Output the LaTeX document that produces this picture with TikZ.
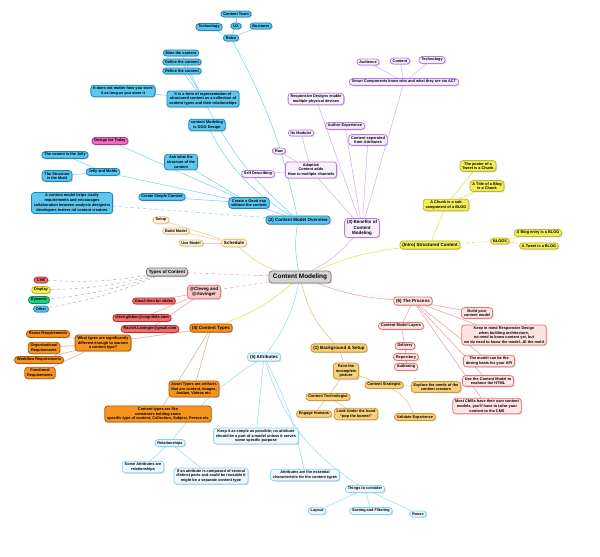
\documentclass[tikz,border=0pt]{standalone}
\usepackage{fontspec}
\setmainfont{Liberation Sans}
\usetikzlibrary{shadows,backgrounds}
\definecolor{bluF}{HTML}{5CC6EE}\definecolor{bluD}{HTML}{1B86BE}
\definecolor{purF}{HTML}{F8F0FF}\definecolor{purD}{HTML}{BB77EE}
\definecolor{yelF}{HTML}{F2EE5A}\definecolor{yelD}{HTML}{BDB52A}
\definecolor{oraF}{HTML}{F7941E}\definecolor{oraD}{HTML}{A95C12}
\definecolor{tanF}{HTML}{F9D07A}\definecolor{tanD}{HTML}{CF9636}
\definecolor{creF}{HTML}{FFF4DE}\definecolor{creD}{HTML}{F5C06E}
\definecolor{redF}{HTML}{F26D6D}\definecolor{redD}{HTML}{B83232}
\definecolor{pnkF}{HTML}{FFE4E4}\definecolor{pnkD}{HTML}{EA7373}
\definecolor{skyF}{HTML}{EEF9FF}\definecolor{skyD}{HTML}{88D4F5}
\definecolor{gryF}{HTML}{D4D4D4}\definecolor{gryD}{HTML}{7D7D7D}
\definecolor{magF}{HTML}{F06CC0}\definecolor{magD}{HTML}{C0328E}
\definecolor{grnF}{HTML}{1DD486}\definecolor{grnD}{HTML}{0E8A55}

\begin{document}
\begin{tikzpicture}[x=1pt,y=-1pt,
  box/.style={draw,rounded corners=3pt,line width=.8pt,align=center,inner xsep=2.4pt,inner ysep=1.6pt,
    font=\fontsize{3.85}{4.7}\selectfont\bfseries,drop shadow={shadow xshift=1pt,shadow yshift=-1pt,opacity=.3}},
  hub/.style={font=\fontsize{4.5}{5.3}\selectfont\bfseries,inner ysep=2pt},
  blu/.style={box,fill=bluF,draw=bluD}, pur/.style={box,fill=purF,draw=purD},
  yel/.style={box,fill=yelF,draw=yelD}, ora/.style={box,fill=oraF,draw=oraD},
  tan/.style={box,fill=tanF,draw=tanD}, cre/.style={box,fill=creF,draw=creD},
  red/.style={box,fill=redF,draw=redD}, pnk/.style={box,fill=pnkF,draw=pnkD},
  sky/.style={box,fill=skyF,draw=skyD}, gry/.style={box,fill=gryF,draw=gryD},
  lb/.style={draw=bluF!75,line width=.6pt}, lp/.style={draw=purD!55,line width=.6pt},
  ly/.style={draw=yelF!80!yelD,line width=.6pt}, lo/.style={draw=oraD!45,line width=.6pt},
  lt/.style={draw=tanD!55,line width=.6pt}, lc/.style={draw=creD!80,line width=.6pt},
  lr/.style={draw=pnkD!65,line width=.6pt}, ls/.style={draw=skyD!80,line width=.6pt},
  lg/.style={draw=gryD!55,line width=.6pt,dashed}]
\useasboundingbox (0,0) rectangle (600,557);

\node[gry,font=\fontsize{6.4}{7}\selectfont\bfseries,inner xsep=4pt,inner ysep=3pt] (cm) at (300,277) {Content Modeling};

\node[blu,hub] (ovw) at (298,220) {(2) Content Model Overview};
\node[blu] (good) at (249,203) {Create a Good exp\\without the content};
\node[blu] (simple) at (162,197) {Create Simple Content};
\node[blu] (ask) at (181,162) {Ask what the\\structure of the\\content};
\node[blu] (ooo) at (207,125) {content Modeling\\is OOO Design};
\node[blu] (form) at (203,99) {It is a form of representation of\\structured content as a collection of\\content types and their relationships};
\node[blu] (mine) at (181,53) {Mine the content};
\node[blu] (define) at (182,62) {Define the content};
\node[blu] (refine) at (182,71) {Refine the content};
\node[blu] (store) at (123,91) {It does not matter how you store\\it as long as you store it};
\node[blu] (roles) at (231,38) {Roles};
\node[blu] (tech) at (209,27) {Technology};
\node[blu] (ux) at (236,26) {UX};
\node[blu] (biz) at (261,26) {Business};
\node[blu] (team) at (236,14) {Content Team};
\node[box,fill=magF,draw=magD] (today) at (110,141) {Design for Today};
\node[blu] (jelly) at (65,155) {The conent is the Jelly};
\node[blu] (molds) at (103,172) {Jelly and Molds};
\node[blu] (mold) at (57,176) {The Structure\\is the Mold};
\node[blu] (helps) at (72,203) {A content model helps clarify\\requirements and encourages\\collaboration between analysts designers\\developers testers nd content creators};

\node[pur,hub] (ben) at (362,228) {(3) Benefits of\\Content\\Modeling};
\node[pur] (smart) at (404,82) {Smart Components know who and what they are via ACT};
\node[pur] (aud) at (368,62) {Audience};
\node[pur] (pcont) at (400,61) {Content};
\node[pur] (ptech) at (432,60) {Technology};
\node[pur] (resp) at (316,99) {Responsive Designs enable\\multiple physical devices};
\node[pur] (authx) at (345,126) {Author Experience};
\node[pur] (sep) at (368,140) {Content seperated\\from Attributes};
\node[pur] (modul) at (301,133) {Its Modular};
\node[pur] (raw) at (279,151) {Raw};
\node[pur] (adapt) at (311,170) {Adaptive\\Content adds\\How to multiple channels};
\node[pur] (selfd) at (258,174) {Self Describing};

\node[yel,hub] (struct) at (430,245) {(Intro) Structured Content};
\node[yel] (chunk) at (446,205) {A Chunk is a sub\\component of a BLOG};
\node[yel] (poster) at (478,166) {The poster of a\\Tweet is a Chunk};
\node[yel] (title) at (487,186) {A Title of a Blog\\is a Chunk};
\node[yel] (blogs) at (500,241) {BLOGS};
\node[yel] (entry) at (538,233) {A Blog entry is a BLOG};
\node[yel] (tweet) at (539,246) {A Tweet is a BLOG};

\node[cre,hub] (sched) at (234,243) {Schedule};
\node[cre] (setup) at (161,220) {Setup};
\node[cre] (build) at (176,231) {Build Model};
\node[cre] (use) at (191,243) {Use Model};

\node[gry,hub] (types) at (167,272) {Types of Content};
\node[red] (cms) at (41,280) {CMS};
\node[yel] (disp) at (41,290) {Display};
\node[box,fill=grnF,draw=grnD] (dyn) at (39,300) {Dynamic};
\node[blu] (other) at (41,309) {Other};

\node[box,hub,fill=pnkF!75!pnkD,draw=pnkD] (cleve) at (204,292) {@Cleveg and\\@rlovinger};
\node[red] (gmail) at (154,301) {Gmail then for slides};
\node[red] (cmail) at (142,318) {cleve.gibbon@cognifide.com};
\node[red] (rmail) at (150,329) {Rachel.Lovinger@gmail.com};

\node[ora,hub] (ctypes) at (211,328) {(4) Content Types};
\node[ora] (what) at (103,343) {What types are significantly\\different enough to warrant\\a content type?};
\node[ora] (reuse) at (48,334) {Reuse Requirements};
\node[ora] (org) at (44,348) {Organizational\\Requirements};
\node[ora] (work) at (39,360) {Workflow Requirements};
\node[ora] (func) at (40,373) {Functional\\Requirements};
\node[ora] (asset) at (194,389) {Asset Types are artifacts\\that are content, Images,\\Audios, Videos etc.};
\node[ora] (like) at (158,414) {Content types are like\\containers holding some\\specific type of content, Collection, Subject, Person etc};

\node[sky,hub] (attr) at (264,357) {(5) Attributes};
\node[sky] (keep) at (256,436) {Keep it as simple as possible; no attribute\\should be a part of a model unless it serves\\some specific purpose};
\node[sky] (rel) at (170,443) {Relationships};
\node[sky] (some) at (143,467) {Some Attributes are\\relationships};
\node[sky] (compo) at (211,476) {If an attribute is composed of several\\distinct parts and could be reusable it\\might be a separate content type};
\node[sky] (essen) at (305,475) {Attributes are the essential\\characteristic for the content types};
\node[sky] (things) at (365,489) {Things to consider};
\node[sky] (layout) at (317,511) {Layout};
\node[sky] (sort) at (371,511) {Sorting and Filtering};
\node[sky] (areuse) at (418,514) {Reuse};

\node[tan,hub] (bg) at (339,348) {(1) Background \& Setup};
\node[tan] (paint) at (346,371) {Paint the\\incomplete\\picture};
\node[tan] (strat) at (384,385) {Content Strategist};
\node[tan] (techn) at (328,397) {Content Technologist};
\node[tan] (engage) at (314,414) {Engage Humans};
\node[tan] (hood) at (356,414) {Look Under the hood\\``pop the bonnet''};
\node[tan] (explore) at (436,387) {Explore the needs of the\\content creators};
\node[tan] (valid) at (415,417) {Validate Experience};

\node[pnk,hub] (proc) at (413,301) {(6) The Process};
\node[pnk] (layers) at (401,326) {Content Model Layers};
\node[pnk] (deliv) at (405,346) {Delivery};
\node[pnk] (repo) at (406,357) {Repository};
\node[pnk] (authr) at (406,367) {Authoring};
\node[pnk] (buildc) at (477,313) {Build your\\content model};
\node[pnk] (mind) at (504,335) {Keep in mind Responsive Design\\when building architecture,\\no need to know content yet, but\\we do need to know the model...IE the mold};
\node[pnk] (api) at (489,361) {The model can be the\\desing basis for your API};
\node[pnk] (html) at (488,381) {Use the Content Model to\\enahnce the HTML};
\node[pnk] (cmss) at (487,406) {Most CMSs have their own content\\models, you'll have to tailor your\\content to the CMS};

\begin{scope}[on background layer]
  \draw[lb] (cm) to[bend left=10] (ovw); \draw[lp] (cm) to[bend right=10] (ben);
  \draw[ly] (cm) to[bend left=8] (struct); \draw[lr] (cm) to[bend right=8] (proc);
  \draw[lt] (cm) to[bend right=15] (bg); \draw[ls] (cm) to[bend left=12] (attr);
  \draw[ly] (cm) to[bend left=10] (ctypes); \draw[lr,dashed] (cm) -- (cleve);
  \draw[lr,dashed] (cm) -- (types); \draw[lc] (cm) to[bend left=12] (sched);
  \draw[lb] (ovw) -- (good); \draw[lb] (good) -- (simple); \draw[lb] (good) -- (ask);
  \draw[lb] (good) -- (today); \draw[lb] (good) -- (molds); \draw[lb,dashed] (ovw) -- (helps);
  \draw[lb] (ovw) to[bend left=15] (ooo); \draw[lb] (ovw) to[bend left=10] (form); \draw[lb] (ovw) to[bend right=8] (roles);
  \draw[lb] (form) -- (mine); \draw[lb] (form) -- (define); \draw[lb] (form) -- (refine); \draw[lb] (form) -- (store);
  \draw[lb] (roles) -- (tech); \draw[lb] (roles) -- (ux); \draw[lb] (roles) -- (biz); \draw[lb] (ux) -- (team);
  \draw[lb] (molds) -- (jelly); \draw[lb] (molds) -- (mold);
  \draw[lp] (ben) -- (smart); \draw[lp] (ben) -- (resp); \draw[lp] (ben) -- (authx); \draw[lp] (ben) -- (sep);
  \draw[lp] (ben) -- (adapt); \draw[lp] (adapt) -- (modul); \draw[lp] (adapt) -- (raw); \draw[lp] (adapt) -- (selfd);
  \draw[lp] (smart) -- (aud); \draw[lp] (smart) -- (pcont); \draw[lp] (smart) -- (ptech);
  \draw[ly] (struct) -- (chunk); \draw[ly] (chunk) -- (poster); \draw[ly] (chunk) -- (title);
  \draw[ly,dashed] (struct) -- (blogs); \draw[ly] (blogs) -- (entry); \draw[ly] (blogs) -- (tweet);
  \draw[lc] (sched) -- (setup); \draw[lc] (sched) -- (build); \draw[lc] (sched) -- (use);
  \foreach \t in {cms,disp,dyn,other} \draw[lg] (types) to[bend left=6] (\t);
  \draw[lr] (cleve) -- (gmail); \draw[lr] (cleve) -- (cmail); \draw[lr] (cleve) -- (rmail);
  \draw[lo] (ctypes) -- (what); \draw[lo] (ctypes) -- (asset); \draw[lo] (ctypes) -- (like);
  \foreach \t in {reuse,org,work,func} \draw[lo] (what) -- (\t);
  \draw[ls] (attr) -- (keep); \draw[ls] (attr) to[bend right=10] (rel); \draw[ls] (attr) to[bend left=8] (essen);
  \draw[ls] (attr) to[bend right=20] (things); \draw[ls] (rel) -- (some); \draw[ls] (rel) -- (compo);
  \draw[ls] (things) -- (layout); \draw[ls] (things) -- (sort); \draw[ls] (things) -- (areuse);
  \draw[lt] (bg) -- (paint); \draw[lt] (paint) -- (techn); \draw[lt] (paint) -- (strat);
  \draw[lt] (techn) -- (engage); \draw[lt] (techn) -- (hood); \draw[lt] (strat) -- (explore); \draw[lt] (strat) to[bend left=20] (valid);
  \draw[lr] (proc) -- (layers); \draw[lr] (layers) -- (deliv); \draw[lr] (deliv) -- (repo); \draw[lr] (repo) -- (authr);
  \foreach \t in {buildc,mind,api,html,cmss} \draw[lr] (proc) -- (\t);
\end{scope}
\end{tikzpicture}
\end{document}
